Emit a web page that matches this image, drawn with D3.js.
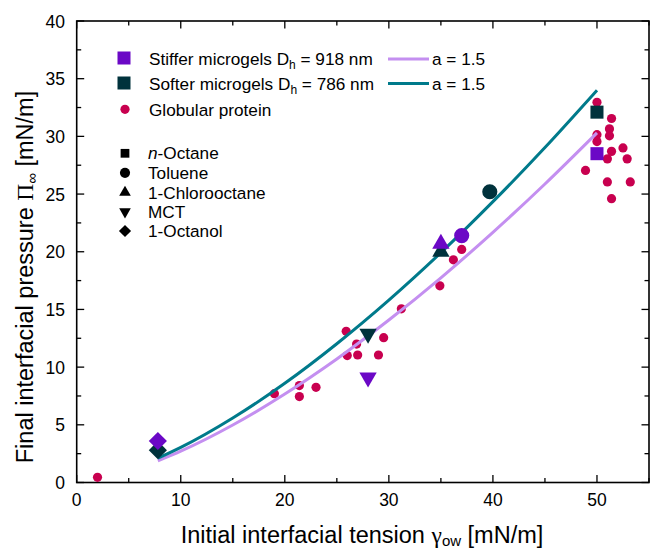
<!DOCTYPE html>
<html>
<head>
<meta charset="utf-8">
<script src="https://cdn.jsdelivr.net/npm/d3@7"></script>
<style>
  body { margin: 0; background: #fff; }
  svg { display: block; font-family: "Liberation Sans", Arial, sans-serif; }
</style>
</head>
<body>
<svg width="651" height="551"></svg>
<script>
// solvents, in the order of the symbol legend
var solvents = ["n-Octane", "Toluene", "1-Chlorooctane", "MCT", "1-Octanol"];

// stiffer microgels (Dh = 918 nm), one point per solvent
var stiffX = [50, 37, 35, 28, 7.8];
var stiffY = [28.5, 21.4, 20.7, 9.1, 3.6];

// softer microgels (Dh = 786 nm)
var softX = [50, 39.7, 35, 28, 7.8];
var softY = [32.1, 25.2, 20.0, 12.9, 2.8];

// globular protein
var proteinX = [2.0, 19.0, 21.4, 21.4, 23.0, 25.9, 26.9, 26.0, 27.0, 29.0, 29.5, 31.2, 34.9, 36.2, 37.0,
                50.0, 51.4, 51.2, 51.2, 50.0, 50.0, 51.4, 52.5, 51.0, 52.9, 48.9, 51.0, 53.2, 51.4];
var proteinY = [0.45, 7.7, 8.4, 7.45, 8.25, 13.1, 12.0, 11.0, 11.05, 11.05, 12.55, 15.05, 17.05, 19.3, 20.2,
                32.95, 31.55, 30.65, 30.05, 30.15, 29.55, 28.7, 29.0, 28.05, 28.05, 27.05, 26.05, 26.05, 24.6];

// a = 1.5 curves
var fitX     = [7.8, 10, 15, 20, 25, 30, 35, 40, 45, 50];
var fitStiff = [1.87, 2.71, 4.98, 7.67, 10.71, 14.08, 17.74, 21.68, 25.87, 30.3];
var fitSoft  = [2.1, 3.04, 5.59, 8.6, 12.03, 15.81, 19.92, 24.34, 29.04, 34.0];

var xTicks = [0, 10, 20, 30, 40, 50];
var yTicks = [0, 5, 10, 15, 20, 25, 30, 35, 40];

var cStiff = "#6b08c6", cStiffLine = "#c48ff0",
    cSoft = "#00323c", cSoftLine = "#007a8b",
    cProtein = "#c8004f";

var svg = d3.select("svg");

var x = d3.scaleLinear().domain([0, 55]).range([76.7, 649]);
var y = d3.scaleLinear().domain([0, 40]).range([482.5, 21]);

// symbol per solvent
var downTri = {
  draw: function(ctx, size) {
    var s = Math.sqrt(size * 4 / Math.sqrt(3)), h = s * Math.sqrt(3) / 2;
    ctx.moveTo(0, 2 * h / 3);
    ctx.lineTo(s / 2, -h / 3);
    ctx.lineTo(-s / 2, -h / 3);
    ctx.closePath();
  }
};
var diamond = {
  draw: function(ctx, size) {
    var r = Math.sqrt(size / 2);
    ctx.moveTo(0, -r); ctx.lineTo(r, 0); ctx.lineTo(0, r); ctx.lineTo(-r, 0); ctx.closePath();
  }
};
var shapes = [d3.symbolSquare, d3.symbolCircle, d3.symbolTriangle, downTri, diamond];
var sizes = [170, 180, 130, 130, 165];

function sym(i, scale) {
  return d3.symbol().type(shapes[i]).size(sizes[i] * (scale || 1))();
}

// axes with inward ticks, on all four sides
var tickMaj = 7.5, tickMin = 4.5;
var frame = svg.append("g").attr("stroke", "#000").attr("stroke-width", 1.3);

d3.range(0, 55.1, 5).forEach(function(v) {
  var len = v % 10 === 0 ? tickMaj : tickMin;
  frame.append("line").attr("x1", x(v)).attr("x2", x(v)).attr("y1", y(0)).attr("y2", y(0) - len);
  frame.append("line").attr("x1", x(v)).attr("x2", x(v)).attr("y1", y(40)).attr("y2", y(40) + len);
});
d3.range(0, 40.1, 2.5).forEach(function(v) {
  var len = v % 5 === 0 ? tickMaj : tickMin;
  frame.append("line").attr("y1", y(v)).attr("y2", y(v)).attr("x1", x(0)).attr("x2", x(0) + len);
  frame.append("line").attr("y1", y(v)).attr("y2", y(v)).attr("x1", x(55)).attr("x2", x(55) - len);
});

svg.append("rect")
    .attr("x", x(0)).attr("y", y(40))
    .attr("width", x(55) - x(0)).attr("height", y(0) - y(40))
    .attr("fill", "none").attr("stroke", "#000").attr("stroke-width", 1.6);

svg.append("g").selectAll("text").data(xTicks).enter().append("text")
    .attr("x", function(d) { return x(d); })
    .attr("y", 506)
    .attr("text-anchor", "middle")
    .attr("font-size", 17.5)
    .text(function(d) { return d; });

svg.append("g").selectAll("text").data(yTicks).enter().append("text")
    .attr("x", 65)
    .attr("y", function(d) { return y(d) + 6.5; })
    .attr("text-anchor", "end")
    .attr("font-size", 17.5)
    .text(function(d) { return d; });

// axis titles
var xt = svg.append("text")
    .attr("x", 362).attr("y", 543)
    .attr("text-anchor", "middle")
    .attr("font-size", 23.5);
xt.append("tspan").text("Initial interfacial tension ");
xt.append("tspan").attr("font-family", "'Liberation Serif', serif").text("γ");
xt.append("tspan").attr("font-size", 15).attr("dy", 3).text("ow");
xt.append("tspan").attr("dy", -3).text(" [mN/m]");

var yt = svg.append("text")
    .attr("transform", "translate(33,277) rotate(-90)")
    .attr("text-anchor", "middle")
    .attr("font-size", 23.5);
yt.append("tspan").text("Final interfacial pressure ");
yt.append("tspan").attr("font-family", "'Liberation Serif', serif").text("Π");
yt.append("tspan").attr("font-size", 15).attr("dy", 4).text("∞");
yt.append("tspan").attr("dy", -4).text(" [mN/m]");

// protein dots
svg.append("g").selectAll("circle").data(proteinX).enter().append("circle")
    .attr("cx", function(d) { return x(d); })
    .attr("cy", function(d, i) { return y(proteinY[i]); })
    .attr("r", 4.6)
    .attr("fill", cProtein);

// fitted curves
var line = d3.line().curve(d3.curveMonotoneX);
svg.append("path")
    .attr("d", line(fitX.map(function(d, i) { return [x(d), y(fitStiff[i])]; })))
    .attr("fill", "none").attr("stroke", cStiffLine).attr("stroke-width", 3);
svg.append("path")
    .attr("d", line(fitX.map(function(d, i) { return [x(d), y(fitSoft[i])]; })))
    .attr("fill", "none").attr("stroke", cSoftLine).attr("stroke-width", 3);

// microgel markers: softer underneath, stiffer on top
svg.append("g").selectAll("path").data(softX).enter().append("path")
    .attr("transform", function(d, i) { return "translate(" + x(d) + "," + y(softY[i]) + ")"; })
    .attr("d", function(d, i) { return sym(i); })
    .attr("fill", cSoft);
svg.append("g").selectAll("path").data(stiffX).enter().append("path")
    .attr("transform", function(d, i) { return "translate(" + x(d) + "," + y(stiffY[i]) + ")"; })
    .attr("d", function(d, i) { return sym(i); })
    .attr("fill", cStiff);

// legend: groups
var leg = svg.append("g").attr("font-size", 17.2);
leg.append("rect").attr("x", 117.5).attr("y", 51.5).attr("width", 13).attr("height", 13).attr("fill", cStiff);
leg.append("rect").attr("x", 117.5).attr("y", 76.5).attr("width", 13).attr("height", 13).attr("fill", cSoft);
leg.append("circle").attr("cx", 125).attr("cy", 109.3).attr("r", 4.6).attr("fill", cProtein);

function labelDh(yy, val) {
  var t = leg.append("text").attr("x", 149).attr("y", yy);
  t.append("tspan").text(val[0] + " microgels D");
  t.append("tspan").attr("font-size", 12).attr("dy", 4).text("h");
  t.append("tspan").attr("dy", -4).text(" = " + val[1] + " nm");
}
labelDh(65, ["Stiffer", 918]);
labelDh(90, ["Softer", 786]);
leg.append("text").attr("x", 149).attr("y", 115.5).text("Globular protein");

leg.append("line").attr("x1", 388).attr("x2", 429).attr("y1", 59).attr("y2", 59)
    .attr("stroke", cStiffLine).attr("stroke-width", 3);
leg.append("line").attr("x1", 388).attr("x2", 429).attr("y1", 83.5).attr("y2", 83.5)
    .attr("stroke", cSoftLine).attr("stroke-width", 3);
leg.append("text").attr("x", 432).attr("y", 65).text("a = 1.5");
leg.append("text").attr("x", 432).attr("y", 90).text("a = 1.5");

// legend: solvent symbols
var symY = [153.3, 172.8, 192.5, 211.7, 231];
solvents.forEach(function(s, i) {
  leg.append("path")
      .attr("transform", "translate(125," + symY[i] + ")")
      .attr("d", sym(i, 0.45))
      .attr("fill", "#000");
  var t = leg.append("text").attr("x", 148).attr("y", symY[i] + 6);
  if (s.indexOf("n-") === 0) {
    t.append("tspan").attr("font-style", "italic").text("n");
    t.append("tspan").text(s.slice(1));
  } else {
    t.text(s);
  }
});
</script>
</body>
</html>
